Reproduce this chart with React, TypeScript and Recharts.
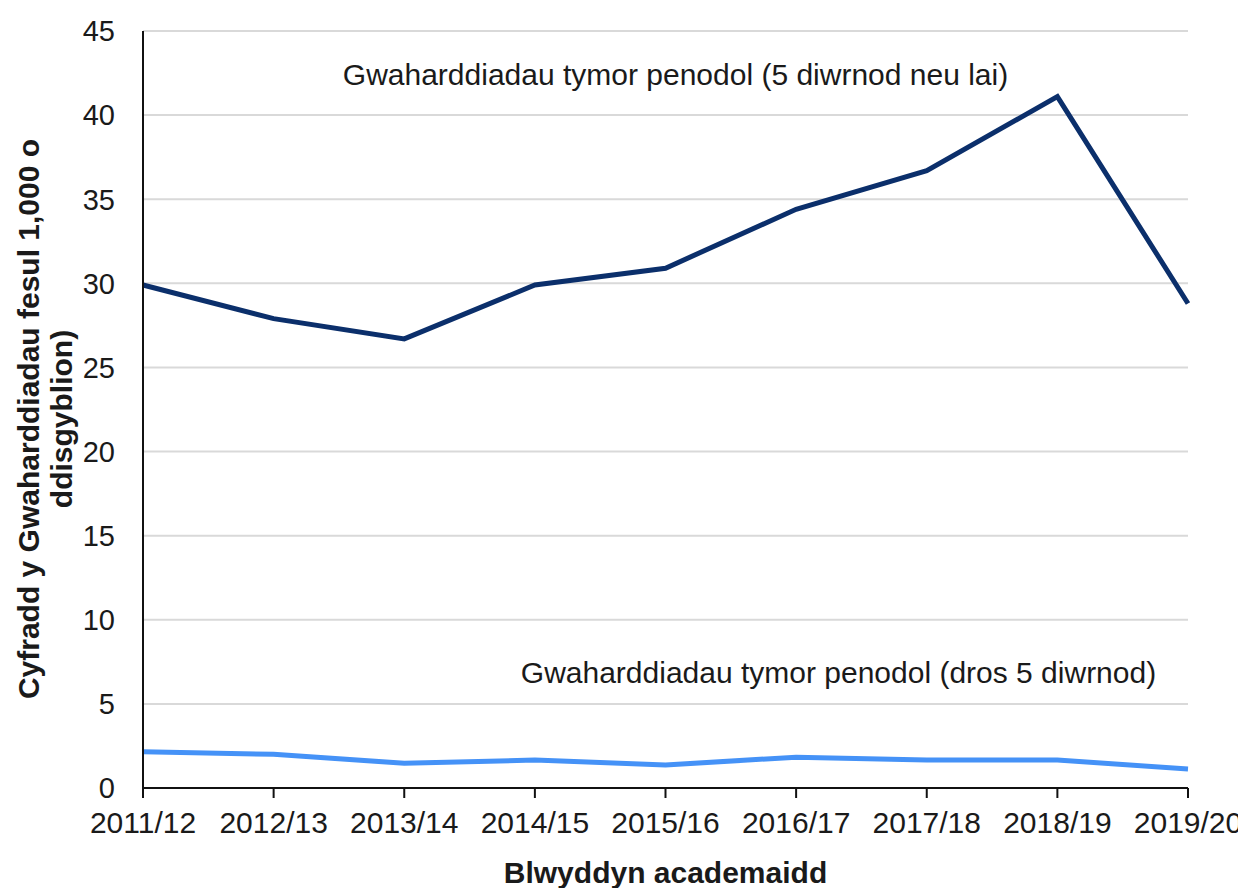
import React from "react";
import { LineChart, Line, XAxis, YAxis, CartesianGrid } from "recharts";

const years = ["2011/12", "2012/13", "2013/14", "2014/15", "2015/16", "2016/17", "2017/18", "2018/19", "2019/20"];
const shortExclusions = [29.9, 27.9, 26.7, 29.9, 30.9, 34.4, 36.7, 41.1, 28.8];
const longExclusions = [2.16, 2.0, 1.47, 1.66, 1.37, 1.83, 1.66, 1.66, 1.13];
const yTicks = [0, 5, 10, 15, 20, 25, 30, 35, 40, 45];

const data = years.map((year, i) => ({
  year,
  short: shortExclusions[i],
  long: longExclusions[i],
}));

const FONT = "'Liberation Sans', Arial, sans-serif";
const DARK = "#0b2f6b";
const LIGHT = "#4592f7";

export default function App() {
  return (
    <div style={{ position: "relative", width: 1238, height: 880, fontFamily: FONT, color: "#1a1a1a" }}>
      {/* let the last x tick label spill past the svg edge like the original */}
      <style>{".recharts-surface { overflow: visible; }"}</style>
      <LineChart width={1238} height={880} data={data} margin={{ top: 23, right: 58, left: 55, bottom: 0 }}>
        <CartesianGrid stroke="#d9d9d9" strokeWidth={2} vertical={false} />
        <XAxis
          dataKey="year"
          height={100}
          stroke="#111"
          strokeWidth={2}
          tickSize={10}
          tickMargin={14}
          tick={{ fontSize: 30, fontFamily: FONT, fill: "#1a1a1a" }}
          interval={0}
        />
        <YAxis
          width={80}
          domain={[0, 45]}
          ticks={yTicks}
          stroke="#111"
          strokeWidth={2}
          tickLine={false}
          tickSize={0}
          tickMargin={28}
          tick={{ fontSize: 29, fontFamily: FONT, fill: "#1a1a1a" }}
          interval={0}
        />
        <Line type="linear" dataKey="short" stroke={DARK} strokeWidth={5} dot={false} isAnimationActive={false} />
        <Line type="linear" dataKey="long" stroke={LIGHT} strokeWidth={5} dot={false} isAnimationActive={false} />
      </LineChart>

      {/* series annotations */}
      <div style={{ position: "absolute", left: 0, width: 1335, top: 52, textAlign: "center", fontSize: 30, lineHeight: "30px", whiteSpace: "nowrap" }}>
        Gwaharddiadau tymor penodol (5 diwrnod neu lai)
      </div>
      <div style={{ position: "absolute", left: 0, width: 1661, top: 650, textAlign: "center", fontSize: 30, lineHeight: "30px", whiteSpace: "nowrap" }}>
        Gwaharddiadau tymor penodol (dros 5 diwrnod)
      </div>

      {/* axis titles */}
      <div style={{ position: "absolute", left: 135, width: 1045, top: 850, textAlign: "center", fontSize: 30, lineHeight: "30px", fontWeight: "bold", whiteSpace: "nowrap" }}>
        Blwyddyn academaidd
      </div>
      <div style={{ position: "absolute", left: 37, top: 411, width: 0, height: 0 }}>
        <div
          style={{
            position: "absolute",
            left: -300,
            top: -33,
            width: 600,
            textAlign: "center",
            fontSize: 30,
            lineHeight: "33px",
            fontWeight: "bold",
            transform: "rotate(-90deg)",
            transformOrigin: "300px 33px",
            whiteSpace: "nowrap",
          }}
        >
          Cyfradd y Gwaharddiadau fesul 1,000 o
          <br />
          ddisgyblion)
        </div>
      </div>
    </div>
  );
}
